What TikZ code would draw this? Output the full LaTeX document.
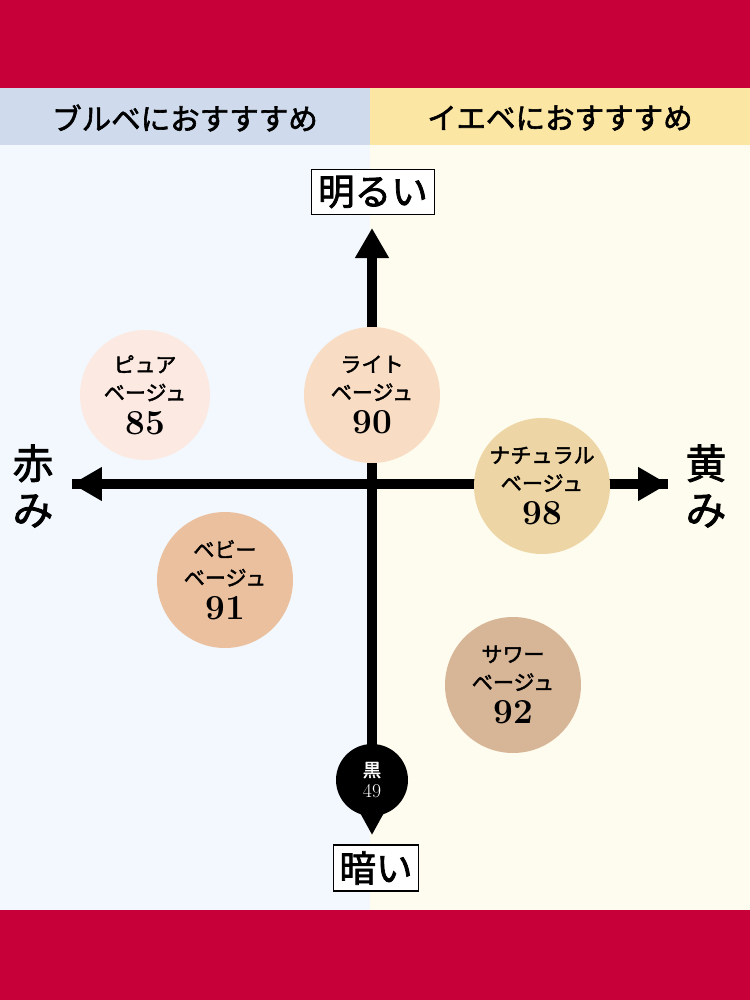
\documentclass[tikz,border=0pt]{standalone}
\usepackage{fontspec}
\newfontfamily\jp[AutoFakeBold=2]{Noto Sans CJK JP}
\usetikzlibrary{arrows.meta}
\definecolor{band}{HTML}{C8003A}
\definecolor{bluehead}{HTML}{CFDBEC}
\definecolor{yellowhead}{HTML}{FCE6A4}
\definecolor{bluebg}{HTML}{F2F8FD}
\definecolor{yellowbg}{HTML}{FEFCEE}
\definecolor{pureshade}{RGB}{252,233,226}
\definecolor{lightshade}{RGB}{248,221,196}
\definecolor{naturalshade}{RGB}{237,213,165}
\definecolor{babyshade}{RGB}{235,192,158}
\definecolor{sourshade}{RGB}{215,181,151}
\newcommand\shadenum[1]{{\normalfont\bfseries\fontsize{50}{50}\selectfont #1}}
\begin{document}
\begin{tikzpicture}
    [x=0.05cm, y=-0.05cm, >={Triangle[length=1.5cm, width=1.6cm]},
     disc/.style={circle, minimum size=6.8cm, inner sep=0pt, align=center, font=\jp\bfseries\fontsize{30}{40}\selectfont},
     axislabel/.style={draw, line width=1.5pt, fill=white, inner sep=9pt, font=\jp\bfseries\fontsize{52}{56}\selectfont},
     head/.style={font=\jp\bfseries\fontsize{42}{46}\selectfont}]
    \useasboundingbox (0,0) rectangle (750,1000);
    % bands and backgrounds
    \fill[band] (0,0) rectangle (750,88);
    \fill[band] (0,910) rectangle (750,1000);
    \fill[bluehead] (0,88) rectangle (370,145);
    \fill[yellowhead] (370,88) rectangle (750,145);
    \fill[bluebg] (0,145) rectangle (370,910);
    \fill[yellowbg] (370,145) rectangle (750,910);
    \node[head] (blue) at (185,118) {ブルベにおすすすめ};
    \node[head] (yellow) at (560,118) {イエベにおすすすめ};
    % axes
    \coordinate (up) at (372,228);
    \coordinate (down) at (372,835);
    \coordinate (left) at (72,484);
    \coordinate (right) at (668,484);
    \draw[line width=0.5cm, ->] (372,484) -- (up);
    \draw[line width=0.5cm, -{Triangle[length=1.1cm, width=1.1cm]}] (372,484) -- (down);
    \draw[line width=0.5cm, ->] (right) -- (left);
    \draw[line width=0.5cm, ->] (left) -- (right);
    \node[axislabel] (bright) at (373,192) {明るい};
    \node[axislabel] (dark) at (376,868) {暗い};
    \node[font=\jp\bfseries\fontsize{58}{66}\selectfont, align=center] (red) at (33,486) {赤\\み};
    \node[font=\jp\bfseries\fontsize{58}{66}\selectfont, align=center] (yel) at (706,486) {黄\\み};
    % shades
    \node[disc, fill=pureshade, minimum size=6.5cm] (pure) at (145,395) {ピュア\\ベージュ\\[8pt]\shadenum{85}};
    \node[disc, fill=lightshade] (light) at (372,395) {ライト\\ベージュ\\[8pt]\shadenum{90}};
    \node[disc, fill=naturalshade] (natural) at (542,486) {ナチュラル\\ベージュ\\[8pt]\shadenum{98}};
    \node[disc, fill=babyshade] (baby) at (225,580) {ベビー\\ベージュ\\[8pt]\shadenum{91}};
    \node[disc, fill=sourshade] (sour) at (513,685) {サワー\\ベージュ\\[8pt]\shadenum{92}};
    \node[disc, fill=black, text=white, minimum size=3.6cm, font=\jp\bfseries\fontsize{26}{30}\selectfont] (black) at (372,780) {黒\\{\normalfont\fontsize{28}{30}\selectfont 49}};
\end{tikzpicture}
\end{document}
